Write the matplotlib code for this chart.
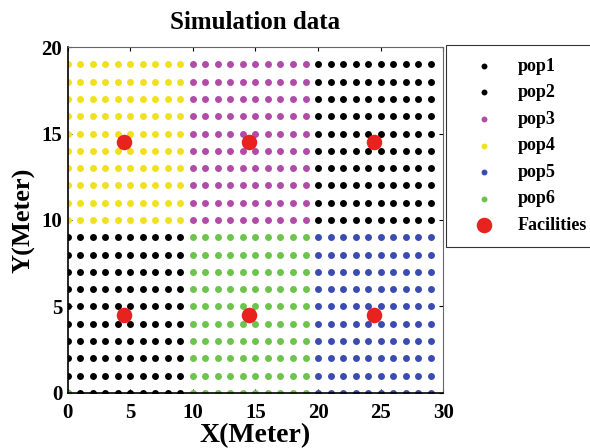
import numpy as np
import matplotlib.pyplot as plt

plt.rcParams['font.family'] = ['Liberation Serif', 'DejaVu Serif']
plt.rcParams['font.weight'] = 'bold'

# population blocks: (name, x columns, y rows, colour)
pop_names = ['pop1', 'pop2', 'pop3', 'pop4', 'pop5', 'pop6']
pop_x = [list(range(0, 10)), list(range(20, 30)), list(range(10, 20)),
         list(range(0, 10)), list(range(20, 30)), list(range(10, 20))]
pop_y = [list(range(0, 10)), list(range(10, 20)), list(range(10, 20)),
         list(range(10, 20)), list(range(0, 10)), list(range(0, 10))]
pop_colors = ['black', 'black', '#b04ca8', '#f0e020', '#3a4cb0', '#6cc44c']

# stray point at the origin drawn with pop6
pop6_extra = (0, 0)

fac_x = [4.5, 14.5, 24.5, 4.5, 14.5, 24.5]
fac_y = [4.5, 4.5, 4.5, 14.5, 14.5, 14.5]

fig = plt.figure(figsize=(5.9, 4.48), dpi=100)
ax = fig.add_axes([0.115, 0.123, 0.636, 0.772])

for name, xs, ys, c in zip(pop_names, pop_x, pop_y, pop_colors):
    X, Y = np.meshgrid(xs, ys)
    X, Y = X.ravel(), Y.ravel()
    if name == 'pop6':
        X = np.append(X, pop6_extra[0])
        Y = np.append(Y, pop6_extra[1])
    ax.scatter(X, Y, s=25, color=c, linewidths=0, label=name, zorder=2)

ax.scatter(fac_x, fac_y, s=125, color='#e8231f', linewidths=0,
           label='Facilities', zorder=3)

ax.set_xlim(0, 30)
ax.set_ylim(0, 20)
ax.set_xticks([0, 5, 10, 15, 20, 25, 30])
ax.set_yticks([0, 5, 10, 15, 20])
ax.tick_params(direction='in', length=3, labelsize=15, top=True, right=True)
ax.tick_params(axis='x', pad=7)
ax.tick_params(axis='y', pad=4)
for lab in ax.get_xticklabels() + ax.get_yticklabels():
    lab.set_fontweight('bold')
for sp in ax.spines.values():
    sp.set_color('#666666')
    sp.set_linewidth(0.8)
ax.spines['left'].set_color('black')
ax.spines['bottom'].set_color('black')
ax.spines['left'].set_linewidth(1.2)
ax.spines['bottom'].set_linewidth(1.2)

ax.set_title('Simulation data', fontsize=18, fontweight='bold', pad=13)
ax.set_xlabel('X(Meter)', fontsize=20, fontweight='bold', labelpad=0)
ax.set_ylabel('Y(Meter)', fontsize=19, fontweight='bold', labelpad=4)

leg = ax.legend(loc='upper left', bbox_to_anchor=(1.008, 1.006), frameon=True,
                fancybox=False, edgecolor='black', fontsize=13,
                handlelength=2.8, handletextpad=0.45, labelspacing=0.53,
                borderpad=0.7, borderaxespad=0, scatterpoints=1)
leg.get_frame().set_linewidth(0.8)
for h in leg.legend_handles[:-1]:
    h.set_sizes([18])

fig.savefig('out.png', dpi=100)
